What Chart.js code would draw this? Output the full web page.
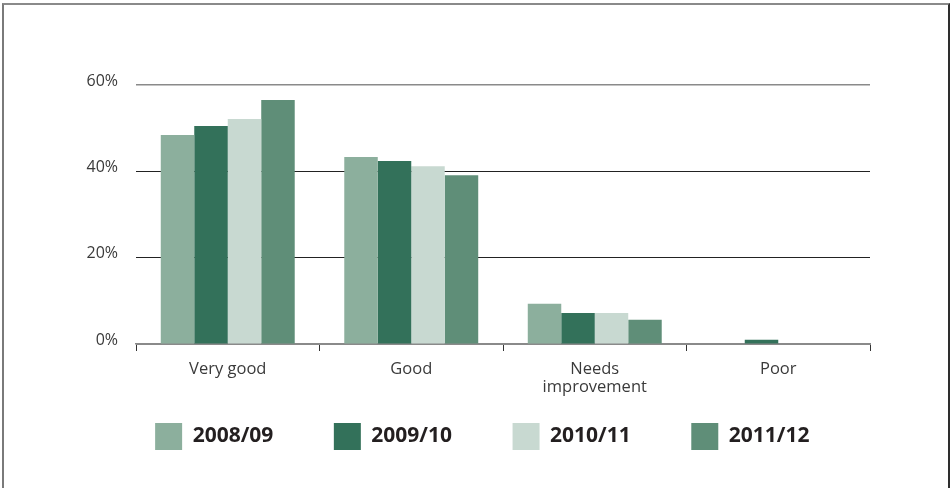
<!DOCTYPE html>
<html>
<head>
<meta charset="utf-8">
<script src="https://cdn.jsdelivr.net/npm/chart.js@4"></script>
<style>
  html, body { margin: 0; padding: 0; background: #fff; }
  #frame {
    position: absolute; left: 2px; top: 3px; width: 944px; height: 520px;
    border-left: 2px solid #7a7a7a; border-top: 2px solid #8a8a8a; border-right: 2px solid #2e2e2e;
  }
  #chart { position: absolute; left: 0; top: 0; }
</style>
</head>
<body>
<div id="frame"></div>
<canvas id="chart" width="950" height="488"></canvas>
<script>
const categories = ['Very good', 'Good', ['Needs', 'improvement'], 'Poor'];
const years = ['2008/09', '2009/10', '2010/11', '2011/12'];
const values0809 = [48.4, 43.3, 9.3, 0];
const values0910 = [50.5, 42.4, 7.2, 1.0];
const values1011 = [52.1, 41.2, 7.2, 0];
const values1112 = [56.5, 39.1, 5.6, 0];
const yTicks = [0, 20, 40, 60];

const colors = ['#8caf9d', '#33715a', '#c8d9d1', '#5f8e78'];
const series = [values0809, values0910, values1011, values1112];

Chart.defaults.font.family = "'Open Sans', 'Noto Sans', sans-serif";

let ctx = document.getElementById('chart').getContext('2d');
let chart = new Chart(ctx, {
    type: 'bar',
    data: {
        labels: categories,
        datasets: series.map((vals, i) => ({
            label: years[i],
            data: vals,
            backgroundColor: colors[i],
            borderWidth: 0,
            barPercentage: 1.0,
            categoryPercentage: 0.73
        }))
    },
    options: {
        responsive: false,
        devicePixelRatio: 1,
        animation: false,
        layout: { padding: { left: 0, right: 80, top: 85, bottom: 28 } },
        plugins: {
            tooltip: { enabled: false },
            legend: {
                position: 'bottom',
                align: 'end',
                labels: {
                    boxWidth: 27,
                    boxHeight: 27,
                    padding: 60.5,
                    color: '#231f20',
                    font: { size: 21, weight: 'bold' }
                }
            }
        },
        scales: {
            x: {
                afterFit: (scale) => { scale.height = 18.5; },
                grid: {
                    offset: true,
                    drawOnChartArea: false,
                    drawTicks: true,
                    tickLength: 7,
                    color: '#333'
                },
                border: { display: true, color: '#8a8a8a', width: 1.5 },
                ticks: {
                    // mirrored so the labels are not clipped to the short axis box
                    mirror: true,
                    padding: -34,
                    color: '#3a3a3a',
                    maxRotation: 0,
                    font: { size: 16.5, lineHeight: '18px' }
                }
            },
            y: {
                min: 0,
                max: 60,
                afterFit: (scale) => { scale.width = 136; },
                afterBuildTicks: (scale) => { scale.ticks = yTicks.map(v => ({ value: v })); },
                grid: {
                    drawTicks: false,
                    color: (c) => (c.tick && (c.tick.value === 60 || c.tick.value === 0)) ? '#8a8a8a' : '#222',
                    lineWidth: (c) => (c.tick && c.tick.value === 60) ? 1.5 : 1
                },
                border: { display: false },
                ticks: {
                    color: '#3a3a3a',
                    padding: 18,
                    labelOffset: -4,
                    font: { size: 16 },
                    callback: (v) => v + '%'
                }
            }
        }
    }
});
</script>
</body>
</html>
